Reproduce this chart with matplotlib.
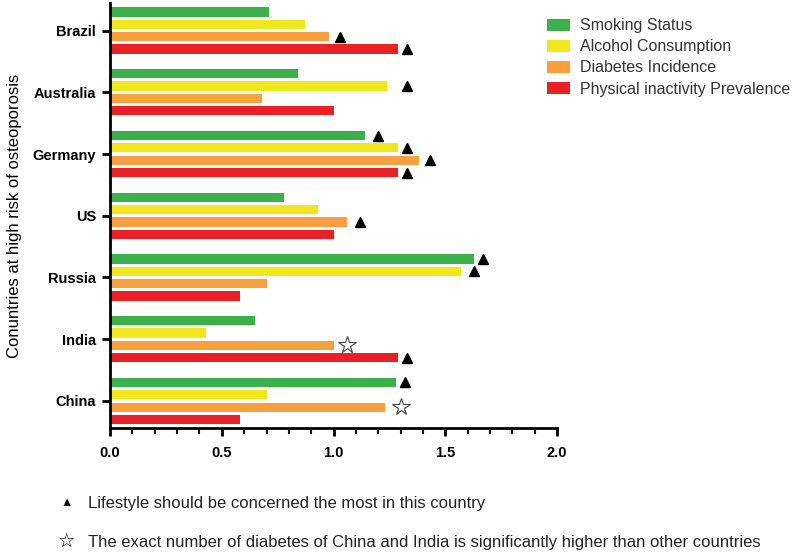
import numpy as np
import matplotlib.pyplot as plt
from matplotlib.ticker import MultipleLocator

plt.rcParams['font.family'] = ['Liberation Sans', 'DejaVu Sans']

# categories listed bottom -> top
countries = ['China', 'India', 'Russia', 'US', 'Germany', 'Australia', 'Brazil']
series = ['Smoking Status', 'Alcohol Consumption', 'Diabetes Incidence',
          'Physical inactivity Prevalence']
smoking = [1.28, 0.65, 1.63, 0.78, 1.14, 0.84, 0.71]
alcohol = [0.70, 0.43, 1.57, 0.93, 1.29, 1.24, 0.87]
diabetes = [1.23, 1.00, 0.70, 1.06, 1.38, 0.68, 0.98]
inactivity = [0.58, 1.29, 0.58, 1.00, 1.29, 1.00, 1.29]
colors = ['#3cb04a', '#f0e81c', '#f7a040', '#ea2027']

# markers: (country, series index, x value)
triangles = [('Brazil', 2, 1.03), ('Brazil', 3, 1.33), ('Australia', 1, 1.33),
             ('Germany', 0, 1.20), ('Germany', 1, 1.33), ('Germany', 2, 1.43),
             ('Germany', 3, 1.33), ('US', 2, 1.12), ('Russia', 0, 1.67),
             ('Russia', 1, 1.63), ('India', 3, 1.33), ('China', 0, 1.32)]
stars = [('India', 2, 1.06), ('China', 2, 1.30)]

fig = plt.figure(figsize=(8, 5.56), dpi=100)
ax = fig.add_axes([0.1375, 0.23, 0.559, 0.765])

y = np.arange(len(countries))
offsets = [0.3, 0.1, -0.1, -0.3]
for vals, off, col, lab in zip([smoking, alcohol, diabetes, inactivity],
                               offsets, colors, series):
    ax.barh(y + off, vals, height=0.15, color=col, label=lab)

for c, s, xv in triangles:
    ax.plot(xv, countries.index(c) + offsets[s], marker='^', color='black',
            markersize=7, linestyle='none')
for c, s, xv in stars:
    ax.plot(xv, countries.index(c) + offsets[s], marker='*', markerfacecolor='white',
            markeredgecolor='#444444', markersize=13, markeredgewidth=0.8,
            linestyle='none')

ax.set_xlim(0, 2.0)
ax.set_ylim(-0.44, 6.45)
ax.set_yticks(y)
ax.set_yticklabels(countries, fontsize=10.5, fontweight='bold')
ax.set_xticks([0, 0.5, 1.0, 1.5, 2.0])
ax.set_xticklabels(['0.0', '0.5', '1.0', '1.5', '2.0'], fontsize=10.5,
                   fontweight='bold')
ax.xaxis.set_minor_locator(MultipleLocator(0.1))
ax.tick_params(axis='both', which='major', width=2, length=6, pad=4)
ax.tick_params(axis='x', which='minor', width=1.5, length=4)
ax.tick_params(axis='x', pad=7)
for side in ['top', 'right']:
    ax.spines[side].set_visible(False)
for side in ['left', 'bottom']:
    ax.spines[side].set_linewidth(2)
ax.set_ylabel('Conuntries at high risk of osteoporosis', fontsize=12, labelpad=8)

ax.legend(loc='upper left', bbox_to_anchor=(0.668, 0.99),
          bbox_transform=fig.transFigure, frameon=False, borderpad=0.3,
          fontsize=11.5, handlelength=1.45, handleheight=0.75,
          handletextpad=0.6, labelspacing=0.38, labelcolor='#333333')

fig.text(0.083, 0.095, '\u25b2', fontsize=9, va='center', ha='center')
fig.text(0.11, 0.095, 'Lifestyle should be concerned the most in this country',
         fontsize=12, va='center', color='#222222')
fig.text(0.083, 0.024, '\u2606', fontsize=14, va='center', ha='center',
         family=['DejaVu Sans'])
fig.text(0.11, 0.024, 'The exact number of diabetes of China and India is '
         'significantly higher than other countries',
         fontsize=12, va='center', color='#222222')

fig.savefig('out.png')
